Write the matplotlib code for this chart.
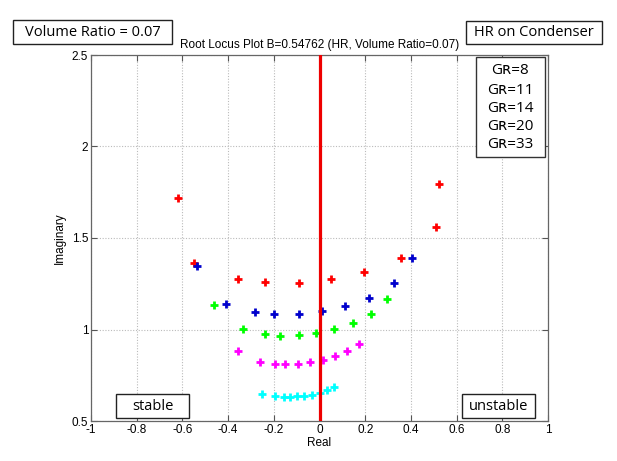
import matplotlib
matplotlib.use("Agg")
import matplotlib.pyplot as plt
from matplotlib.patches import Rectangle

# ---- data ----
gains = ["8", "11", "14", "20", "33"]
colors = ["#ff0000", "#0000cc", "#00ff00", "#ff00ff", "#00ffff"]

red_re = [-0.618, -0.549, -0.356, -0.237, -0.088, 0.051, 0.196, 0.356, 0.509, 0.525]
red_im = [1.718, 1.366, 1.275, 1.260, 1.255, 1.275, 1.313, 1.392, 1.562, 1.793]

blue_re = [-0.538, -0.409, -0.283, -0.199, -0.088, 0.011, 0.112, 0.217, 0.324, 0.403]
blue_im = [1.348, 1.142, 1.095, 1.084, 1.084, 1.100, 1.128, 1.174, 1.256, 1.392]

green_re = [-0.460, -0.336, -0.240, -0.174, -0.091, -0.015, 0.065, 0.145, 0.224, 0.297]
green_im = [1.132, 1.003, 0.974, 0.965, 0.971, 0.980, 1.003, 1.034, 1.087, 1.165]

mag_re = [-0.355, -0.259, -0.193, -0.152, -0.092, -0.040, 0.016, 0.067, 0.120, 0.173]
mag_im = [0.885, 0.824, 0.813, 0.812, 0.813, 0.823, 0.835, 0.857, 0.883, 0.923]

cyan_re = [-0.252, -0.196, -0.157, -0.130, -0.098, -0.066, -0.032, 0.001, 0.031, 0.063]
cyan_im = [0.648, 0.634, 0.630, 0.630, 0.634, 0.639, 0.644, 0.655, 0.670, 0.688]

series = [(red_re, red_im), (blue_re, blue_im), (green_re, green_im),
          (mag_re, mag_im), (cyan_re, cyan_im)]

xticks = [-1, -0.8, -0.6, -0.4, -0.2, 0, 0.2, 0.4, 0.6, 0.8, 1]
xticklabels = ["-1", "-0.8", "-0.6", "-0.4", "-0.2", "0", "0.2", "0.4", "0.6", "0.8", "1"]
yticks = [0.5, 1, 1.5, 2, 2.5]
yticklabels = ["0.5", "1", "1.5", "2", "2.5"]

title = "Root Locus Plot B=0.54762 (HR, Volume Ratio=0.07)"

# ---- figure ----
W, H = 617, 461
fig = plt.figure(figsize=(W / 100, H / 100), dpi=100)
ax = fig.add_axes([91 / W, 40 / H, 457 / W, 366 / H])

axfont = ["Liberation Sans", "DejaVu Sans"]
boxfont = ["Open Sans", "DejaVu Sans"]

for (re, im), c in zip(series, colors):
    ax.plot(re, im, linestyle="none", marker="+", color=c, markersize=6,
            markeredgewidth=2.0, zorder=3)

ax.axvline(0, color="#ee0000", linewidth=2.3, zorder=4)

ax.set_xlim(-1, 1)
ax.set_ylim(0.5, 2.5)
ax.set_xticks(xticks)
ax.set_xticklabels(xticklabels, fontsize=8.5, family=axfont)
ax.set_yticks(yticks)
ax.set_yticklabels(yticklabels, fontsize=8.5, family=axfont)
ax.tick_params(direction="in", top=True, right=True, length=4, width=0.8,
               color="#555555", pad=2)
for s in ax.spines.values():
    s.set_color("#666666")
    s.set_linewidth(0.9)
ax.grid(True, linestyle=(0, (1, 1.5)), color="#bbbbbb", linewidth=0.8)
ax.set_axisbelow(True)

ax.set_xlabel("Real", fontsize=8.5, family=axfont, labelpad=1)
ax.set_ylabel("Imaginary", fontsize=8.5, family=axfont, labelpad=4)
ax.set_title(title, fontsize=8.5, family=axfont, pad=5)

# legend-like box (text only)
lx0, ly0, lx1, ly1 = 476, 57, 545, 157
fig.patches.append(Rectangle((lx0 / W, 1 - ly1 / H), (lx1 - lx0) / W, (ly1 - ly0) / H,
                             transform=fig.transFigure, facecolor="white",
                             edgecolor="#333333", linewidth=1.0, zorder=5))
ys = [71, 90, 108, 126, 145]
for g, yy in zip(gains, ys):
    fig.text(510 / W, 1 - yy / H, "G\u0280=" + g, ha="center", va="center",
             fontsize=11, family=boxfont, zorder=6)

def label_box(x0, y0, x1, y1, txt, fs):
    fig.patches.append(Rectangle((x0 / W, 1 - y1 / H), (x1 - x0) / W, (y1 - y0) / H,
                                 transform=fig.transFigure, facecolor="white",
                                 edgecolor="#222222", linewidth=1.0, zorder=5))
    fig.text((x0 + x1) / 2 / W, 1 - (y0 + y1) / 2 / H, txt, ha="center",
             va="center", fontsize=fs, family=boxfont, zorder=6)

label_box(13, 20, 172, 44, "Volume Ratio = 0.07", 10.5)
label_box(466, 21, 602, 44, "HR on Condenser", 10.5)
label_box(116, 394, 189, 418, "stable", 10.5)
label_box(462, 394, 535, 418, "unstable", 10.5)

fig.savefig("out.png", dpi=100)
